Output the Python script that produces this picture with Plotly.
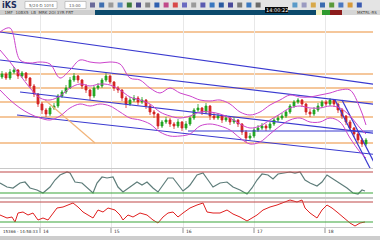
import plotly.graph_objects as go

# ---------------- data ----------------
bar_t = list(range(2, 370, 4))  # 92 bars
bar_open = [123,126,122,128,130,124,127,122,114,106,96,90,86,92,94,104,108,112,120,124,120,114,110,104,112,114,120,124,118,112,110,102,96,100,102,98,100,94,88,86,74,78,80,76,74,78,72,76,82,90,92,88,94,84,82,84,80,82,78,80,76,68,62,64,70,72,74,72,76,80,82,84,88,94,98,100,96,88,86,90,94,98,96,100,96,90,84,78,72,66,60,56]
bar_close = [126,122,128,130,124,127,122,114,106,96,90,86,92,94,104,108,112,120,124,120,114,110,104,112,114,120,124,118,112,110,102,96,100,102,98,100,94,88,86,74,78,80,76,74,78,72,76,82,90,92,88,94,84,82,84,80,82,78,80,76,68,62,64,70,72,74,72,76,80,82,84,88,94,98,100,96,88,86,90,94,98,96,100,96,90,84,78,72,66,60,56,60]
bar_high = [129,128,131,133,131,129,128,123,116,107,98,92,94,97,106,110,115,123,127,125,121,116,111,114,117,122,127,125,119,114,111,104,103,105,104,103,101,96,90,87,80,83,82,78,81,79,79,84,92,96,93,97,95,87,87,85,85,83,83,81,77,70,67,72,75,77,76,78,82,85,87,90,96,100,102,101,97,91,93,97,100,100,102,101,97,92,85,80,73,68,62,62]
bar_low = [121,120,120,126,121,122,119,112,103,93,86,83,84,90,92,102,106,111,118,117,111,107,100,102,110,112,118,116,109,107,99,92,94,98,95,96,91,85,82,71,72,76,73,71,72,69,70,74,80,88,85,86,80,80,80,77,78,75,76,73,65,58,60,62,68,70,69,70,74,78,80,82,86,92,96,93,85,83,84,88,92,94,94,93,87,81,75,69,63,57,53,54]

band_t = [0,10,20,30,40,50,60,70,80,90,100,110,120,130,140,150,160,170,180,190,200,210,220,230,240,250,260,270,280,290,300,310,320,330,340,350,360,366]
band_upper = [168,172,140,137,138,136,122,130,140,138,137,138,136,122,120,112,107,112,107,104,100,99,100,96,88,85,88,95,100,105,103,103,105,107,110,110,92,75]
band_mid = [150,138,125,112,102,100,104,112,116,114,116,115,110,103,100,96,88,84,82,84,88,88,86,82,76,72,74,80,86,92,94,92,92,94,92,84,72,66]
band_lower = [110,100,92,86,82,80,84,92,96,94,96,94,88,82,80,76,68,64,64,66,74,76,74,70,62,56,58,66,74,80,82,78,78,82,78,62,48,42]

level_prices = [168, 126, 112, 98, 83, 57]

chan1_t, chan1_p = [0, 380], [168, 115]
chan2_t, chan2_p = [0, 380], [140, 95]
chan3_t, chan3_p = [20, 380], [108, 66]
chan4_t, chan4_p = [17, 380], [85, 45]
flat_t, flat_p = [188, 380], [69, 69]
steep1_t, steep1_p = [335, 372], [100, 28]
steep2_t, steep2_p = [342, 379], [100, 28]
fan_t, fan_p = [45, 95], [100, 57]

osc1_t = [0,7,13,20,25,30,37,43,50,55,60,67,70,75,82,88,93,97,102,107,113,118,123,130,137,142,147,153,158,163,168,173,178,183,188,190,197,203,208,213,220,227,233,240,247,252,257,262,268,273,278,285,290,295,300,305,310,317,322,327,333,340,347,353,358,362,365]
osc1_v = [48.6,37.1,34.3,48.6,51.4,34.3,28.6,20,37.1,57.1,71.4,80,77.1,51.4,48.6,34.3,20,48.6,65.7,62.9,65.7,37.1,22.9,37.1,51.4,42.9,51.4,34.3,22.9,42.9,62.9,62.9,42.9,25.7,37.1,42.9,71.4,77.1,57.1,37.1,48.6,51.4,37.1,28.6,17.1,34.3,57.1,74.3,71.4,60,74.3,77.1,80,77.1,80,57.1,48.6,40,51.4,71.4,60,48.6,34.3,20,17.1,28.6,25.7]
osc1_levels = [80, 20]

osc2_t = [0,7,12,15,18,23,28,33,38,43,48,53,57,63,68,73,78,83,88,93,98,103,108,115,120,123,128,133,140,147,153,158,163,168,173,178,183,188,190,197,203,207,213,220,227,233,240,247,252,257,263,270,277,283,290,297,302,305,310,317,322,327,332,337,343,350,355,360,365]
osc2_v = [44,38,40,30,48,50,44,48,34,38,34,48,58,60,64,68,60,50,44,38,54,50,58,54,44,34,44,40,48,44,34,28,40,48,50,40,48,54,58,64,68,50,48,48,54,46,40,32,38,44,54,60,64,68,74,70,74,58,48,38,54,64,58,50,40,28,22,28,30]
osc2_levels = [70, 30]

date_ticks = [40, 111, 183, 254, 325]
date_labels = ["14", "15", "16", "17", "18"]

# ---------------- figure ----------------
fig = go.Figure()

BLUE = "#3a3ad0"
ORANGE = "#f2b47a"
MAG = "#cc44cc"

for t, p in [(chan1_t, chan1_p), (chan2_t, chan2_p), (chan3_t, chan3_p), (chan4_t, chan4_p),
             (flat_t, flat_p), (steep1_t, steep1_p), (steep2_t, steep2_p)]:
    fig.add_trace(go.Scatter(x=t, y=p, mode="lines", line=dict(color=BLUE, width=1.2),
                             xaxis="x", yaxis="y", hoverinfo="skip"))
fig.add_trace(go.Scatter(x=fan_t, y=fan_p, mode="lines", line=dict(color=ORANGE, width=1.2),
                         xaxis="x", yaxis="y", hoverinfo="skip"))

for band in (band_upper, band_mid, band_lower):
    fig.add_trace(go.Scatter(x=band_t, y=band, mode="lines", line=dict(color=MAG, width=1, shape="spline"),
                             xaxis="x", yaxis="y", hoverinfo="skip"))

fig.add_trace(go.Candlestick(x=bar_t, open=bar_open, high=bar_high, low=bar_low, close=bar_close,
                             increasing=dict(line=dict(color="#22a022", width=0.8), fillcolor="#22b022"),
                             decreasing=dict(line=dict(color="#d42424", width=0.8), fillcolor="#d42424"),
                             whiskerwidth=0, xaxis="x", yaxis="y"))

fig.add_trace(go.Scatter(x=osc1_t, y=osc1_v, mode="lines", line=dict(color="#5e7d7a", width=1.2),
                         xaxis="x2", yaxis="y2", hoverinfo="skip"))
fig.add_trace(go.Scatter(x=osc2_t, y=osc2_v, mode="lines", line=dict(color="#e02020", width=1),
                         xaxis="x3", yaxis="y3", hoverinfo="skip"))

shapes = []
for lp in level_prices:
    shapes.append(dict(type="line", xref="x", yref="y", x0=0, x1=373, y0=lp, y1=lp,
                       line=dict(color=ORANGE, width=1.5), layer="below"))
for yr, (hi, lo) in (("y2", osc1_levels), ("y3", osc2_levels)):
    shapes.append(dict(type="line", xref="paper", yref=yr, x0=0, x1=0.982, y0=hi, y1=hi,
                       line=dict(color="#c04848", width=1.2)))
    shapes.append(dict(type="line", xref="paper", yref=yr, x0=0, x1=0.982, y0=lo, y1=lo,
                       line=dict(color="#3aa63a", width=1.2)))

# UI chrome (toolbar / status rows / bottom bar)
def prect(x0, y0, x1, y1, color, line=None):
    return dict(type="rect", xref="paper", yref="paper", x0=x0 / 380, x1=x1 / 380,
                y0=1 - y1 / 240, y1=1 - y0 / 240, fillcolor=color,
                line=dict(width=0) if line is None else line, layer="above")

shapes += [
    prect(0, 0, 380, 10, "#e4e4e4"),
    prect(0, 10, 95, 15, "#cfcfcf"),
    prect(95, 10, 316, 15, "#0c4a6c"),
    prect(316, 10, 322, 15, "#f0f0c0"),
    prect(322, 10, 330, 15, "#2e9a2e"),
    prect(330, 10, 342, 15, "#8c1c1c"),
    prect(342, 10, 380, 15, "#d6d6d6"),
    prect(25, 1.5, 57, 8.5, "#ffffff", dict(color="#9a9a9a", width=0.5)),
    prect(65, 1.5, 86, 8.5, "#ffffff", dict(color="#9a9a9a", width=0.5)),
    prect(265, 7, 288, 13, "#0a0a0a"),
    prect(0, 168, 380, 169, "#c8c8c8"),
    prect(0, 197, 380, 199, "#c8c8c8"),
    prect(0, 227, 380, 228, "#c8c8c8"),
    prect(0, 236, 380, 240, "#cdcdcd"),
    prect(373, 15, 380, 236, "#ffffff"),
]
icon_colors = ["#6a6a9a", "#3f6fb0", "#9a9a9a", "#5a8ac8", "#3a7a3a", "#4a4a8a", "#8a8a8a", "#3060b0",
               "#c04a8a", "#d84a4a", "#6a6ac0", "#9a9a9a", "#5a5ab0", "#3a78c0", "#2a5aa0", "#4a4a9a",
               "#7a7a7a", "#3a78c0", "#6a6a6a", "#3a6ab0", "#c05a9a", "#2a5aa0", "#5a9ac8", "#9a9ac0",
               "#d8a84a", "#3a6ab0", "#5a9a3a", "#4a78c0", "#d89a3a", "#3a5ab0"]
for k, c in enumerate(icon_colors):
    x0 = 90 + k * 9.2
    if 262 < x0 < 292:
        continue
    shapes.append(prect(x0, 2.5, x0 + 5, 7.5, c))
for dt in date_ticks:
    shapes.append(dict(type="line", xref="x", yref="paper", x0=dt, x1=dt,
                       y0=1 - 233 / 240, y1=1 - 228 / 240, line=dict(color="#777777", width=0.8)))

annotations = [
    dict(text="<b>iKS</b>", x=0, y=1 - 5 / 240, xref="paper", yref="paper", xanchor="left",
         yanchor="middle", showarrow=False, font=dict(size=8, color="#1c2c5c", family="DejaVu Sans")),
    dict(text="14:00:22", x=276.5 / 380, y=1 - 10 / 240, xref="paper", yref="paper", xanchor="center",
         yanchor="middle", showarrow=False, font=dict(size=5, color="#ffffff", family="DejaVu Sans")),
    dict(text="5/24-D 10Y4", x=27 / 380, y=1 - 5 / 240, xref="paper", yref="paper", xanchor="left",
         yanchor="middle", showarrow=False, font=dict(size=4, color="#555555", family="DejaVu Sans")),
    dict(text="13:00", x=67 / 380, y=1 - 5 / 240, xref="paper", yref="paper", xanchor="left",
         yanchor="middle", showarrow=False, font=dict(size=4, color="#555555", family="DejaVu Sans")),
    dict(text="  1MF  10BX5  LB  MRK 2OI 3YR FRT", x=0, y=1 - 12.5 / 240, xref="paper", yref="paper",
         xanchor="left", yanchor="middle", showarrow=False,
         font=dict(size=4, color="#444444", family="DejaVu Sans")),
    dict(text="MKTRL-RS", x=379 / 380, y=1 - 12.5 / 240, xref="paper", yref="paper", xanchor="right",
         yanchor="middle", showarrow=False, font=dict(size=4, color="#444444", family="DejaVu Sans")),
    dict(text="15366 - 14:58:33", x=1 / 380, y=1 - 231 / 240, xref="paper", yref="paper",
         xanchor="left", yanchor="middle", showarrow=False,
         font=dict(size=4, color="#333333", family="DejaVu Sans")),
]
for dt, lab in zip(date_ticks, date_labels):
    annotations.append(dict(text=lab, x=dt + 0.5, y=1 - 231 / 240, xref="x", yref="paper",
                            xanchor="left", yanchor="middle", showarrow=False,
                            font=dict(size=4.5, color="#333333", family="DejaVu Sans")))

xcommon = dict(range=[0, 373], domain=[0, 373 / 380], showticklabels=False, ticks="",
               showgrid=True, gridcolor="#e8e8e8", gridwidth=1, tickvals=date_ticks,
               zeroline=False, showline=False, fixedrange=True)
fig.update_layout(
    width=380, height=240, margin=dict(l=0, r=0, t=0, b=0),
    paper_bgcolor="#ffffff", plot_bgcolor="#ffffff", showlegend=False,
    xaxis=dict(**xcommon, anchor="y", rangeslider=dict(visible=False)),
    xaxis2=dict(**xcommon, anchor="y2", matches="x"),
    xaxis3=dict(**xcommon, anchor="y3", matches="x"),
    yaxis=dict(domain=[1 - 168 / 240, 1 - 15 / 240], range=[32, 185], showticklabels=False,
               showgrid=False, zeroline=False, anchor="x"),
    yaxis2=dict(domain=[1 - 197 / 240, 1 - 169 / 240], range=[8.6, 88.6], showticklabels=False,
                showgrid=False, zeroline=False, anchor="x2"),
    yaxis3=dict(domain=[1 - 227 / 240, 1 - 199 / 240], range=[20, 76], showticklabels=False,
                showgrid=False, zeroline=False, anchor="x3"),
    shapes=shapes, annotations=annotations,
)

fig.write_html("out.html")
